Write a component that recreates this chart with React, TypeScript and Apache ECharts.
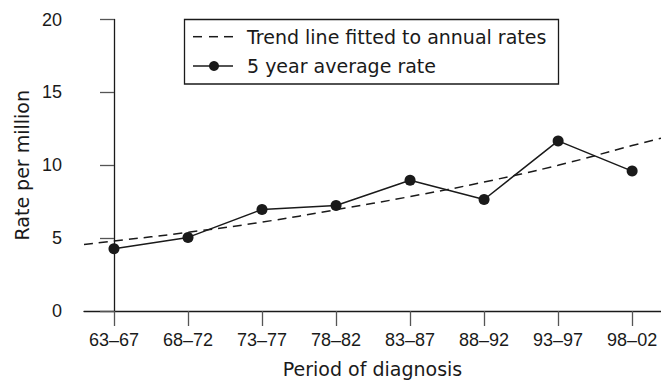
import React, { useEffect, useRef } from "react";
import * as echarts from "echarts";

// Five-year periods of diagnosis
const periods = ["63–67", "68–72", "73–77", "78–82", "83–87", "88–92", "93–97", "98–02"];
// Five-year average rate per million, one value per period
const averageRates = [4.27, 5.05, 6.97, 7.24, 8.97, 7.65, 11.67, 9.6];
// Fitted trend line: positions along the period axis and the fitted rate
const trendPositions = [-0.405, 0, 1, 2, 3, 4, 5, 6, 7, 7.39];
const trendRates = [4.57, 4.8, 5.4, 6.1, 6.95, 7.85, 8.85, 10.0, 11.35, 11.85];
const yTicks = [0, 5, 10, 15, 20];

const SERIES_TREND = "Trend line fitted to annual rates";
const SERIES_AVG = "5 year average rate";

const TEXT_FONT = "DejaVu Sans, Verdana, sans-serif";
const NUM_FONT = "Liberation Sans, Arial, Helvetica, sans-serif";
const INK = "#1a1a1a";

export default function App() {
  const ref = useRef<HTMLDivElement>(null);

  useEffect(() => {
    if (!ref.current) return;
    const chart = echarts.init(ref.current, undefined, { renderer: "svg" });
    const periodIdx = periods.map((_, i) => i);

    // Boxed key in the upper part of the plot
    const legendBox = { x: 184.5, y: 19.5, w: 374, h: 64.5 };
    const row1 = 36.7;
    const row2 = 66;
    const keyX0 = 193;
    const keyX1 = 233;
    const textX = 247;

    const dashSegments = [
      [193, 202],
      [209, 218],
      [224, 233],
    ];

    chart.setOption({
      animation: false,
      backgroundColor: "#ffffff",
      textStyle: { fontFamily: TEXT_FONT, color: INK },
      grid: { left: 84, right: 0, top: 19.5, bottom: 71.5, containLabel: false },
      graphic: [
        {
          type: "rect",
          shape: { x: legendBox.x, y: legendBox.y, width: legendBox.w, height: legendBox.h },
          style: { fill: "#ffffff", stroke: INK, lineWidth: 1.3 },
          z: 10,
        },
        ...dashSegments.map(([a, b]) => ({
          type: "line",
          shape: { x1: a, y1: row1, x2: b, y2: row1 },
          style: { stroke: INK, lineWidth: 1.5 },
          z: 11,
        })),
        {
          type: "text",
          x: textX,
          y: row1,
          style: { text: SERIES_TREND, font: `19px ${TEXT_FONT}`, fill: INK, verticalAlign: "middle" },
          z: 11,
        },
        {
          type: "line",
          shape: { x1: keyX0, y1: row2, x2: keyX1, y2: row2 },
          style: { stroke: INK, lineWidth: 1.5 },
          z: 11,
        },
        {
          type: "circle",
          shape: { cx: 214, cy: row2, r: 5 },
          style: { fill: INK },
          z: 11,
        },
        {
          type: "text",
          x: textX,
          y: row2,
          style: { text: SERIES_AVG, font: `19px ${TEXT_FONT}`, fill: INK, verticalAlign: "middle" },
          z: 11,
        },
      ],
      xAxis: {
        type: "value",
        min: trendPositions[0],
        max: trendPositions[trendPositions.length - 1],
        name: "Period of diagnosis",
        nameLocation: "middle",
        nameGap: 48,
        nameTextStyle: { fontSize: 19, color: INK, fontFamily: TEXT_FONT },
        splitLine: { show: false },
        axisLine: { show: true, onZero: false, lineStyle: { color: INK, width: 1.3 } },
        axisTick: {
          show: true,
          customValues: periodIdx,
          length: 15,
          inside: false,
          lineStyle: { color: "#555", width: 1.3 },
        },
        axisLabel: {
          customValues: periodIdx,
          formatter: (v: number) => periods[Math.round(v)] ?? "",
          fontSize: 18,
          fontFamily: NUM_FONT,
          color: INK,
          margin: 20,
        },
      },
      yAxis: {
        type: "value",
        min: 0,
        max: 20,
        interval: 5,
        name: "Rate per million",
        nameLocation: "middle",
        nameGap: 53,
        nameRotate: 90,
        nameTextStyle: { fontSize: 19, color: INK, fontFamily: TEXT_FONT },
        splitLine: { show: false },
        axisLine: { show: true, lineStyle: { color: INK, width: 1.3 } },
        axisTick: { show: true, length: 14, inside: false, lineStyle: { color: "#555", width: 1.3 } },
        axisLabel: {
          fontSize: 18,
          fontFamily: NUM_FONT,
          color: INK,
          margin: 22,
          formatter: (v: number) => (yTicks.includes(v) ? String(v) : ""),
        },
      },
      series: [
        {
          name: SERIES_TREND,
          type: "line",
          data: trendPositions.map((x, i) => [x, trendRates[i]]),
          smooth: true,
          showSymbol: false,
          symbol: "none",
          lineStyle: { color: INK, width: 1.5, type: [9, 6] },
          itemStyle: { color: INK },
          z: 2,
        },
        {
          name: SERIES_AVG,
          type: "line",
          data: averageRates.map((v, i) => [i, v]),
          symbol: "circle",
          symbolSize: 11,
          lineStyle: { color: INK, width: 1.5 },
          itemStyle: { color: INK },
          z: 3,
        },
      ],
    });

    return () => chart.dispose();
  }, []);

  return (
    <div
      ref={ref}
      style={{ position: "fixed", left: 0, top: 0, width: 661, height: 383, background: "#fff" }}
    />
  );
}
